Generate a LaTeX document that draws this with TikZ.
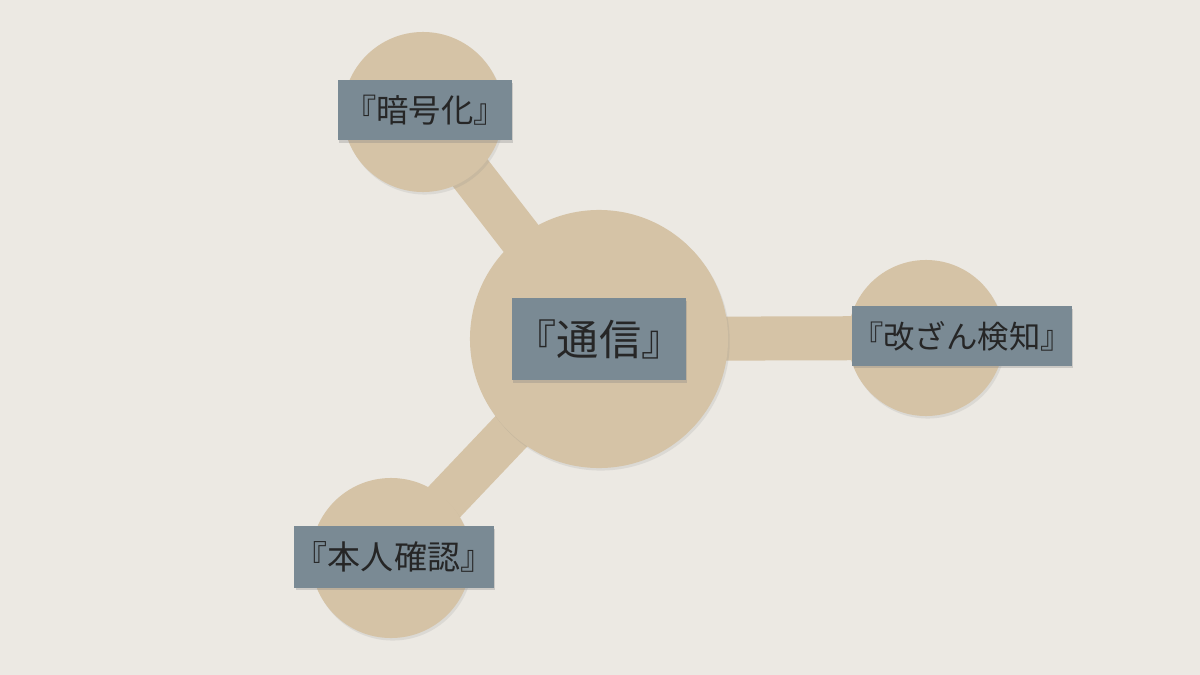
\documentclass[tikz,border=0pt]{standalone}
\usepackage{fontspec}
\newfontfamily\jpfont{Noto Sans CJK JP}
\usetikzlibrary{shadows}
\definecolor{paper}{RGB}{236,233,227}
\definecolor{tan}{RGB}{213,195,166}
\definecolor{slate}{RGB}{122,138,148}
\definecolor{ink}{RGB}{38,38,38}
\pgfdeclarelayer{base}
\pgfdeclarelayer{bars}
\pgfsetlayers{base,bars,main}

\begin{document}
\begin{tikzpicture}[x=0.025cm,y=-0.025cm,
    disc/.style={circle,fill=tan,inner sep=0pt,drop shadow={shadow xshift=1.2pt,shadow yshift=-1.8pt,opacity=0.15}},
    tag/.style={fill=slate,text=ink,inner sep=0pt,font=\jpfont\fontsize{23}{27}\selectfont,drop shadow={shadow xshift=1pt,shadow yshift=-2pt,opacity=0.3}},
    bar/.style={tan,line width=1.1cm}]
                \useasboundingbox (0,0) rectangle (1200,675);
                \begin{pgfonlayer}{base}
                    \fill[paper] (0,0) rectangle (1200,675);
                \end{pgfonlayer}
                % paper discs
                \node[disc,minimum size=6.45cm] (hub) at (599,339) {};
                \node[disc,minimum size=4cm] (enc) at (423,112) {};
                \node[disc,minimum size=3.9cm] (mac) at (926,338) {};
                \node[disc,minimum size=4cm] (auth) at (391,558) {};
                % strips between the discs
                \begin{pgfonlayer}{bars}
                    \draw[bar] (hub.center) -- (enc.center);
                    \draw[bar] (hub.center) -- (mac.center);
                    \draw[bar] (hub.center) -- (auth.center);
                \end{pgfonlayer}
                % labels
                \node[tag,minimum width=4.35cm,minimum height=2.05cm,font=\jpfont\fontsize{30}{36}\selectfont] (hubL) at (599,339) {『通信』};
                \node[tag,minimum width=4.35cm,minimum height=1.5cm] (encL) at (425,110) {『暗号化』};
                \node[tag,minimum width=5.475cm,minimum height=1.475cm,font=\jpfont\fontsize{22.3}{27}\selectfont] (macL) at (962,336) {『改ざん検知』};
                \node[tag,minimum width=4.975cm,minimum height=1.525cm,font=\jpfont\fontsize{23.5}{28}\selectfont] (authL) at (394,557) {『本人確認』};
            \end{tikzpicture}
\end{document}
